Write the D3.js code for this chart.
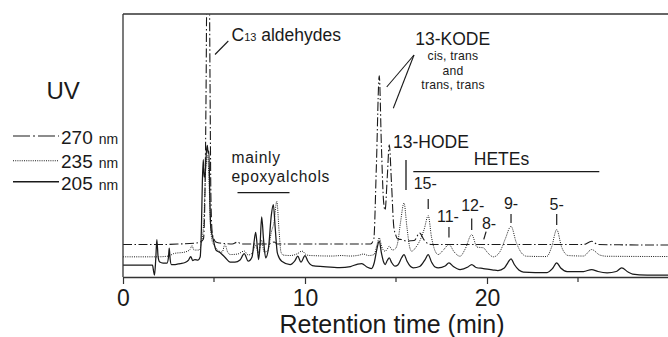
<!DOCTYPE html>
<html><head><meta charset="utf-8">
<script src="https://cdn.jsdelivr.net/npm/d3@7"></script>
<style>
body{margin:0;background:#fff}
svg{display:block}
text{font-family:"Liberation Sans",Arial,Helvetica,sans-serif;fill:#1a1a1a}
</style>
</head><body>
<svg id="c" width="668" height="337"></svg>
<script>
// ---- data: [retention time (min), relative absorbance] ----
const trace270 = [
  [0,32.5],[1.9,32.5],[3.0,33],[4.0,34],[4.25,35],[4.42,38],[4.50,80],[4.57,200],[4.60,275],
  [4.75,275],[4.78,200],[4.83,80],[4.90,45],[5.0,38],[5.1,35],[5.33,34],[5.6,33.5],
  [6.0,33],[6.3,35],[6.5,33],[8.0,33],[8.3,35],[8.5,33],[10,33],[12,33],[13.6,33],
  [13.78,38],[13.92,110],[14.08,201.5],[14.2,130],[14.32,75],[14.40,67],[14.52,100],
  [14.63,132.5],[14.75,95],[14.88,50],[14.97,43],[15.1,38],[15.3,37.5],[15.6,36],
  [16.0,36.5],[16.3,44],[16.55,37],[16.8,33],[17.0,32.5],[20,32.5],[25.3,32.5],
  [25.75,35.8],[26.1,32.5],[30,32]
];
const trace235 = [
  [0,20.2],[1.9,20.2],[2.5,21],[2.8,23.5],[3.4,25],[3.68,27.5],[3.79,31.5],[3.9,27],
  [4.18,27],[4.32,35],[4.45,60],[4.55,110],[4.65,122],[4.72,100],[4.80,55],[4.9,36],
  [5.0,32],[5.2,27],[5.45,25],[5.6,32.5],[5.75,25],[5.9,22.5],[6.3,23],[6.66,26],
  [6.88,22],[7.1,24],[7.29,32],[7.43,24],[7.62,37],[7.75,25],[7.95,26],[8.15,45],
  [8.30,55],[8.45,75.8],[8.58,45],[8.68,25],[8.8,22],[9.18,21.5],[9.6,23.5],[9.83,26],
  [10.1,22],[10.33,21.5],[11.5,21],[12.0,21.5],[12.5,21],[13.0,22],[13.2,23],[13.5,21.5],
  [13.8,22.5],[13.95,32],[14.08,39.2],[14.22,30],[14.40,25.8],[14.52,28],[14.63,30.8],
  [14.8,27],[14.95,28],[15.1,35],[15.25,55],[15.44,74.2],[15.6,50],[15.75,30],[15.86,25.8],
  [16.1,30],[16.35,38],[16.55,48],[16.77,61.5],[16.95,40],[17.15,26],[17.32,22.5],
  [17.6,27],[17.91,32.5],[18.2,25],[18.52,20.8],[18.8,28],[19.16,42.5],[19.45,30],
  [19.8,29.2],[20.05,24],[20.35,20.2],[20.7,25],[21.0,38],[21.32,50.8],[21.6,35],
  [21.9,24],[22.18,20.8],[23.28,20.5],[23.55,30],[23.83,47.5],[24.1,30],[24.47,21.5],
  [25.3,21],[25.75,27.5],[26.2,22],[26.58,20.8],[30,20.5]
];
const trace205 = [
  [0,11.8],[1.62,11.8],[1.68,6],[1.73,1.8],[1.80,18],[1.86,37.5],[1.93,20],[2.02,15],
  [2.2,14],[2.42,14],[2.50,20],[2.54,29],[2.59,18],[2.66,12.5],[2.86,12.5],[3.13,13.5],
  [3.41,14.5],[3.6,17],[3.72,20.5],[3.83,16.5],[3.95,17.5],[4.12,17],[4.24,20],[4.31,50],
  [4.36,95],[4.41,117.5],[4.46,100],[4.52,105],[4.58,125],[4.63,131.8],[4.68,124],
  [4.72,126],[4.77,80],[4.82,50],[4.90,42],[4.96,37.5],[5.11,27],[5.33,24.5],[5.6,19.8],
  [5.88,15],[6.15,14.8],[6.43,17],[6.66,23.5],[6.88,15.8],[7.09,20],[7.20,35],[7.29,44.8],
  [7.38,30],[7.45,17.5],[7.53,32],[7.62,60.2],[7.72,38],[7.84,19.2],[8.0,30],[8.15,62],
  [8.26,72.5],[8.36,50],[8.48,24.2],[8.72,15.8],[9.18,12.5],[9.45,16.5],[9.60,20.8],
  [9.78,14.8],[10.0,21.5],[10.15,16],[10.4,11.5],[11.0,10.5],[11.9,9.5],[12.5,10.5],
  [12.9,13],[13.12,13.5],[13.4,10],[13.65,8.5],[13.8,14],[13.95,28],[14.08,36],[14.2,24],
  [14.32,15],[14.40,12.5],[14.52,16.5],[14.63,19.2],[14.76,14.5],[14.95,10.8],[15.1,12],
  [15.3,19],[15.44,22.5],[15.6,16],[15.8,10.5],[15.95,9.2],[16.3,10.5],[16.6,17.5],
  [16.77,22.5],[16.95,15],[17.15,10],[17.32,9.2],[17.7,11],[17.91,14.2],[18.15,10.5],
  [18.52,7.5],[18.95,10],[19.16,12.5],[19.4,9.5],[19.8,8.5],[20.35,7],[20.6,6.5],
  [20.95,9],[21.15,14.5],[21.32,18.2],[21.5,12.5],[21.75,7],[22.0,5],[23.3,4.5],
  [23.6,8.5],[23.83,14.2],[24.05,9],[24.4,5.5],[25.3,5.5],[25.75,7.5],[26.1,5.5],
  [26.6,4.2],[27.1,5.5],[27.4,9.2],[27.75,5],[28.0,3],[28.8,2],[30,1.8]
];
const wavelengths = ["270", "235", "205"];
const xMajorTicks = [0, 10, 20];
const xMinorTicks = [5, 15, 25];
const heteNames = ["15-", "11-", "12-", "8-", "9-", "5-"];
const heteTimes = [16.77, 17.91, 19.16, 19.95, 21.32, 23.83];

// ---- layout ----
const svg = d3.select("#c");
const x = d3.scaleLinear().domain([0, 30]).range([123, 669]);
const y = d3.scaleLinear().domain([0, 263.5]).range([277, 14]);
const ink = "#1a1a1a";

svg.append("defs").append("clipPath").attr("id", "plotclip")
  .append("rect").attr("x", 123).attr("y", 14.5).attr("width", 560).attr("height", 263);

const styles = [
  {data: trace270, dash: "9,2.5,1.5,2.5", w: 1.1, legendDash: "17,3,2,3"},
  {data: trace235, dash: "1,1.2", w: 1.0, legendDash: "1,1.2"},
  {data: trace205, dash: null, w: 1.25, legendDash: null}
];
const line = d3.line().x(d => x(d[0])).y(d => y(d[1])).curve(d3.curveMonotoneX);
const g = svg.append("g").attr("clip-path", "url(#plotclip)");
styles.forEach(s => {
  g.append("path").attr("d", line(s.data)).attr("fill", "none")
    .attr("stroke", ink).attr("stroke-width", s.w)
    .attr("stroke-dasharray", s.dash).attr("stroke-linejoin", "round");
});

// frame: top + left
svg.append("line").attr("x1", 123).attr("x2", 668).attr("y1", 14).attr("y2", 14)
  .attr("stroke", "#333").attr("stroke-width", 1.3);
svg.append("line").attr("x1", 123).attr("x2", 123).attr("y1", 14).attr("y2", 277)
  .attr("stroke", "#333").attr("stroke-width", 1.3);

// x axis
const ax = svg.append("g").attr("transform", "translate(0,277)")
  .call(d3.axisBottom(x).tickValues(xMajorTicks).tickSize(7).tickSizeOuter(0).tickPadding(6).tickFormat(d3.format("d")));
ax.select(".domain").attr("stroke", "#333").attr("stroke-width", 1.3);
ax.selectAll(".tick line").attr("stroke", "#333").attr("stroke-width", 1.2);
ax.selectAll(".tick text").attr("font-size", 23).attr("fill", ink)
  .attr("font-family", "Liberation Sans, Arial, sans-serif");
svg.append("g").selectAll("line").data(xMinorTicks).join("line")
  .attr("x1", d => x(d)).attr("x2", d => x(d)).attr("y1", 277).attr("y2", 282)
  .attr("stroke", "#333").attr("stroke-width", 1.2);
svg.append("text").attr("x", 392).attr("y", 333).attr("text-anchor", "middle")
  .attr("font-size", 25).text("Retention time (min)");

// legend
svg.append("text").attr("x", 46.5).attr("y", 99).attr("font-size", 24).text("UV");
const legY = [136, 160.7, 181.7];
const legTextY = [144, 167.7, 190];
wavelengths.forEach((w, i) => {
  svg.append("line").attr("x1", 13).attr("x2", 59).attr("y1", legY[i]).attr("y2", legY[i])
    .attr("stroke", ink).attr("stroke-width", styles[i].w + 0.1)
    .attr("stroke-dasharray", styles[i].legendDash);
  const t = svg.append("text").attr("x", 61).attr("y", legTextY[i]).attr("font-size", 19);
  t.append("tspan").text(w);
  t.append("tspan").attr("font-size", 14).attr("dx", 6).text("nm");
});

// annotations
const c13 = svg.append("text").attr("x", 231.5).attr("y", 40.5).attr("font-size", 17.5);
c13.append("tspan").text("C");
c13.append("tspan").attr("font-size", 11).text("13");
c13.append("tspan").text(" aldehydes");
svg.append("line").attr("x1", 228.3).attr("y1", 41).attr("x2", 215).attr("y2", 54.5)
  .attr("stroke", ink).attr("stroke-width", 1.1);

svg.append("text").attr("x", 231.5).attr("y", 163).attr("font-size", 15.6)
  .attr("letter-spacing", 0.7).text("mainly");
svg.append("text").attr("x", 231.5).attr("y", 181.5).attr("font-size", 15.6)
  .attr("letter-spacing", 0.7).text("epoxyalchols");
svg.append("line").attr("x1", 237.5).attr("x2", 289.5).attr("y1", 192.7).attr("y2", 192.7)
  .attr("stroke", ink).attr("stroke-width", 1.3);

svg.append("text").attr("x", 452.7).attr("y", 45).attr("text-anchor", "middle")
  .attr("font-size", 17.5).text("13-KODE");
["cis, trans", "and", "trans, trans"].forEach((s, i) => {
  svg.append("text").attr("x", 453).attr("y", 60.3 + i * 14.2).attr("text-anchor", "middle")
    .attr("font-size", 12.2).attr("letter-spacing", 0.2).text(s);
});
svg.append("line").attr("x1", 414).attr("y1", 55).attr("x2", 386.7).attr("y2", 87)
  .attr("stroke", ink).attr("stroke-width", 1.1);
svg.append("line").attr("x1", 414).attr("y1", 55).attr("x2", 393.3).attr("y2", 108.3)
  .attr("stroke", ink).attr("stroke-width", 1.1);

svg.append("text").attr("x", 393).attr("y", 148.3).attr("font-size", 17.5).text("13-HODE");
svg.append("line").attr("x1", 406).attr("x2", 406).attr("y1", 160).attr("y2", 190)
  .attr("stroke", ink).attr("stroke-width", 1.3);

svg.append("text").attr("x", 501.5).attr("y", 165).attr("text-anchor", "middle")
  .attr("font-size", 17.5).text("HETEs");
svg.append("line").attr("x1", 413.3).attr("x2", 599.3).attr("y1", 171.7).attr("y2", 171.7)
  .attr("stroke", ink).attr("stroke-width", 1.3);

const labBase = [189.3, 221.5, 210.5, 228.5, 208.5, 210];
const labDx = [-3, -1, 1, 3, 0, 0];
const tickTop = [199, 227, 218.5, 231.7, 214, 214];
const tickBot = [209, 237.5, 230, 239.3, 223, 225];
const tickSlant = [0, 0, 0, -2.3, 0, 0];
heteNames.forEach((n, i) => {
  const px = x(heteTimes[i]);
  svg.append("text").attr("x", px + labDx[i]).attr("y", labBase[i])
    .attr("text-anchor", "middle").attr("font-size", 16).text(n);
  svg.append("line").attr("x1", px).attr("x2", px + tickSlant[i])
    .attr("y1", tickTop[i]).attr("y2", tickBot[i])
    .attr("stroke", ink).attr("stroke-width", 1.2);
});
</script>
</body></html>
